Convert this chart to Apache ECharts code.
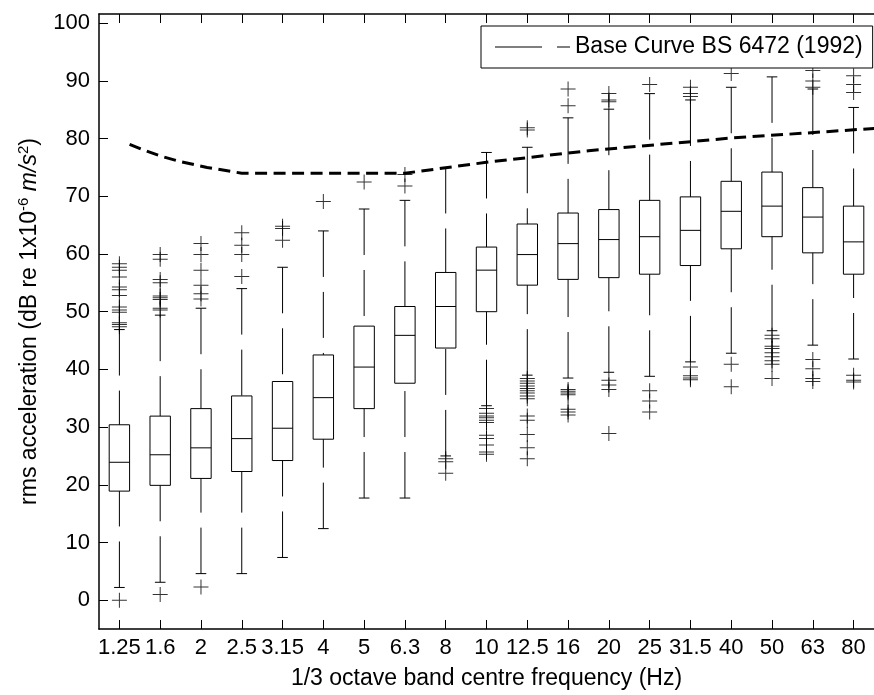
<!DOCTYPE html>
<html>
<head>
<meta charset="utf-8">
<script src="https://cdn.jsdelivr.net/npm/echarts@6/dist/echarts.min.js"></script>
<style>
  html, body { margin: 0; padding: 0; background: #fff; }
  #chart { width: 874px; height: 695px; }
</style>
</head>
<body>
<div id="chart"></div>
<script>
// ---- data ----
const freqLabels = ['1.25','1.6','2','2.5','3.15','4','5','6.3','8','10','12.5','16','20','25','31.5','40','50','63','80'];
const whiskerLow  = [2.2, 3.1, 4.6, 4.6, 7.4, 12.4, 17.7, 17.7, 25.0, 33.7, 39.0, 38.5, 39.5, 38.8, 41.3, 42.8, 46.7, 44.2, 41.8];
const q1          = [18.9, 19.9, 21.1, 22.3, 24.2, 27.9, 33.2, 37.6, 43.7, 50.0, 54.6, 55.6, 55.9, 56.5, 58.0, 60.9, 63.0, 60.2, 56.5];
const median      = [23.9, 25.2, 26.4, 28.0, 29.8, 35.1, 40.4, 45.9, 50.9, 57.2, 59.9, 61.8, 62.5, 63.0, 64.1, 67.4, 68.3, 66.4, 62.1];
const q3          = [30.4, 31.9, 33.2, 35.4, 37.9, 42.5, 47.5, 50.9, 56.8, 61.2, 65.2, 67.1, 67.7, 69.3, 69.9, 72.6, 74.2, 71.5, 68.3];
const whiskerHigh = [46.9, 49.4, 50.6, 54.0, 57.7, 64.0, 67.8, 69.3, 75.0, 77.6, 78.5, 83.6, 85.1, 87.8, 86.7, 88.9, 90.7, 88.6, 85.4];
const outliers = [
  [0.0, 47.4, 47.8, 48.1, 49.9, 50.3, 50.8, 52.8, 53.8, 54.3, 56.0, 57.2, 57.7, 58.3],
  [1.0, 50.3, 50.6, 52.1, 52.4, 52.7, 55.0, 55.6, 59.1, 59.9],
  [2.3, 52.2, 53.1, 54.6, 57.2, 59.9, 61.8],
  [56.1, 59.9, 61.5, 63.7],
  [62.4, 64.4, 64.8],
  [69.1],
  [72.5],
  [71.8, 73.8],
  [22.0, 24.0, 24.5],
  [25.3, 25.7, 26.9, 28.0, 28.6, 30.8, 31.2, 31.6, 31.9, 32.4, 33.2],
  [24.5, 26.4, 28.7, 31.2, 31.9, 34.9, 35.4, 35.9, 36.3, 36.7, 37.1, 37.6, 38.0, 38.4, 81.5, 81.9],
  [32.1, 32.6, 33.1, 35.6, 35.9, 36.2, 36.5, 85.7, 88.6],
  [28.9, 36.5, 37.3, 38.1, 86.4, 86.7, 87.8],
  [32.6, 34.5, 36.3, 89.4],
  [38.2, 38.5, 38.9, 40.4, 87.3, 87.8, 88.9],
  [37.0, 40.9, 91.3],
  [38.4, 40.9, 41.5, 42.2, 42.9, 43.6, 44.0, 45.3, 45.9],
  [37.9, 38.4, 40.1, 41.7, 88.9, 90.0, 91.8],
  [37.8, 38.1, 39.0, 88.0, 89.4, 90.9]
];
// base curve, drawn (as in the original) at x = frequency value on the band-index axis
const baseX     = [1.25, 1.6, 2, 2.5, 3.15, 4, 5, 6.3, 8, 10, 12.5, 16, 20];
const baseCurve = [79.0, 78.0, 77.0, 76.0, 75.0, 74.0, 74.0, 74.0, 74.0, 75.9, 77.9, 80.1, 82.0];
const yTicks = [0, 10, 20, 30, 40, 50, 60, 70, 80, 90, 100];
const legendName = 'Base Curve BS 6472 (1992)';

// ---- build ----
const positions = freqLabels.map((_, i) => i + 1);
const boxData = positions.map((p, i) => [p, whiskerLow[i], q1[i], median[i], q3[i], whiskerHigh[i]]);
const outlierData = [];
outliers.forEach((arr, i) => arr.forEach(v => outlierData.push([i + 1, v])));
const baseData = baseX.map((x, i) => [x, baseCurve[i]]);

const FONT = 'Liberation Sans, Arial, Helvetica, sans-serif';
const chart = echarts.init(document.getElementById('chart'), null, { renderer: 'canvas' });

const stroke = { stroke: '#000', lineWidth: 1, fill: null };
function renderBox(params, api) {
  const x = api.value(0);
  const unit = api.size([1, 0])[0];
  const hw = unit * 0.25, cw = unit * 0.13;
  const pLo = api.coord([x, api.value(1)]);
  const pA = api.coord([x, api.value(2)]);
  const pM = api.coord([x, api.value(3)]);
  const pB = api.coord([x, api.value(4)]);
  const pHi = api.coord([x, api.value(5)]);
  const cx = pA[0];
  return {
    type: 'group',
    children: [
      { type: 'line', shape: { x1: cx, y1: pHi[1], x2: cx, y2: pB[1] }, style: Object.assign({ lineDash: [46, 15] }, stroke) },
      { type: 'line', shape: { x1: cx, y1: pLo[1], x2: cx, y2: pA[1] }, style: Object.assign({ lineDash: [46, 15] }, stroke) },
      { type: 'line', shape: { x1: cx - cw, y1: pHi[1], x2: cx + cw, y2: pHi[1] }, style: stroke },
      { type: 'line', shape: { x1: cx - cw, y1: pLo[1], x2: cx + cw, y2: pLo[1] }, style: stroke },
      { type: 'rect', shape: { x: cx - hw, y: pB[1], width: 2 * hw, height: pA[1] - pB[1] }, style: stroke },
      { type: 'line', shape: { x1: cx - hw, y1: pM[1], x2: cx + hw, y2: pM[1] }, style: stroke }
    ]
  };
}

const option = {
  backgroundColor: '#fff',
  animation: false,
  grid: { left: 99, top: 14, width: 782.6, height: 617, containLabel: false },
  legend: {
    left: 481, top: 26,
    padding: [8, 10, 8, 14],
    borderColor: '#000', borderWidth: 1, borderRadius: 0,
    backgroundColor: '#fff',
    itemWidth: 75, itemHeight: 1.2, itemGap: 0,
    itemStyle: { color: '#000', borderWidth: 0 },
    textStyle: { fontSize: 23, color: '#000', fontFamily: FONT, lineHeight: 26 },
    data: [{ name: legendName, icon: 'path://M0,0H47V1H0Z M62,0H75V1H62Z' }]
  },
  xAxis: [{
    type: 'value', min: 0.5, max: 19.5, position: 'bottom',
    axisLine: { show: true, onZero: false, lineStyle: { color: '#000', width: 1.5 } },
    axisTick: { show: true, inside: true, length: 9, customValues: positions, lineStyle: { color: '#000', width: 1 } },
    axisLabel: {
      customValues: positions, margin: 8,
      formatter: v => freqLabels[Math.round(v) - 1],
      fontSize: 22, color: '#000', fontFamily: FONT
    },
    splitLine: { show: false },
    name: '1/3 octave band centre frequency (Hz)',
    nameLocation: 'middle', nameGap: 38,
    nameTextStyle: { fontSize: 23, color: '#000', fontFamily: FONT }
  }, {
    type: 'value', min: 0.5, max: 19.5, position: 'top',
    axisLine: { show: true, onZero: false, lineStyle: { color: '#000', width: 1.5 } },
    axisTick: { show: true, inside: true, length: 9, customValues: positions, lineStyle: { color: '#000', width: 1 } },
    axisLabel: { show: false },
    splitLine: { show: false }
  }],
  yAxis: {
    type: 'value', min: -5, max: 101.6,
    axisLine: { show: true, onZero: false, lineStyle: { color: '#000', width: 1.5 } },
    axisTick: { show: true, inside: true, length: 9, customValues: yTicks, lineStyle: { color: '#000', width: 1 } },
    axisLabel: { customValues: yTicks, margin: 9, fontSize: 22, color: '#000', fontFamily: FONT },
    splitLine: { show: false },
    name: 'rms acceleration (dB re 1x10{sup|-6} {it|m/s}{sup|2})',
    nameLocation: 'middle', nameGap: 51,
    nameTextStyle: {
      fontSize: 23, color: '#000', fontFamily: FONT, lineHeight: 26,
      rich: {
        sup: { fontSize: 15, lineHeight: 15, verticalAlign: 'top', color: '#000', fontFamily: FONT },
        it: { fontSize: 23, fontStyle: 'italic', color: '#000', fontFamily: FONT }
      }
    }
  },
  series: [
    {
      name: 'boxes', type: 'custom', xAxisIndex: 0, yAxisIndex: 0,
      renderItem: renderBox,
      encode: { x: 0, y: [1, 2, 3, 4, 5] },
      data: boxData, z: 2, silent: true
    },
    {
      name: 'outliers', type: 'scatter', xAxisIndex: 0, yAxisIndex: 0,
      symbol: 'path://M0,7H15V8H0Z M7,0H8V15H7Z', symbolSize: 15,
      itemStyle: { color: '#000' },
      data: outlierData, z: 3, silent: true
    },
    {
      name: legendName, type: 'line', xAxisIndex: 0, yAxisIndex: 0,
      data: baseData, showSymbol: false, symbol: 'none', clip: true,
      itemStyle: { color: '#000' },
      lineStyle: { color: '#000', width: 3, type: [12, 6.5] },
      z: 4, silent: true
    }
  ]
};
chart.setOption(option);
</script>
</body>
</html>
